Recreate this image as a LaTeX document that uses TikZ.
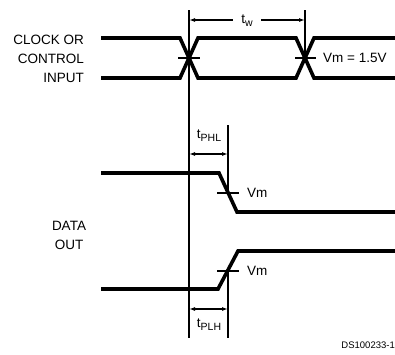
\documentclass[tikz,border=0pt]{standalone}
\usepackage{fontspec}
\setmainfont{Liberation Sans}
\usetikzlibrary{arrows.meta}
\newcommand{\tsub}[1]{t\raisebox{-0.45ex}{\fontsize{10.5}{11}\selectfont #1}}
\begin{document}
\begin{tikzpicture}[x=1pt,y=-1pt,font=\fontsize{13.5}{15}\selectfont,
  wave/.style={line width=3.6pt,line join=miter},
  thin/.style={line width=1.2pt},
  dim/.style={line width=1.2pt,{Latex[length=6pt,width=4pt]}-{Latex[length=6pt,width=4pt]}},
  lbl/.style={inner sep=1pt}]
\useasboundingbox (0,0) rectangle (395,354);

% labels
\node[anchor=east,lbl] (clkA) at (85,40) {CLOCK OR};
\node[anchor=east,lbl] (clkB) at (85,59) {CONTROL};
\node[anchor=east,lbl] (clkC) at (85,78) {INPUT};
\node[lbl] (datA) at (69,226) {DATA};
\node[lbl] (datB) at (69,245) {OUT};

% clock waveform
\draw[wave] (101,38) -- (180,38) -- (198,78) -- (296,78) -- (314,38) -- (395,38);
\draw[wave] (101,78) -- (180,78) -- (198,38) -- (296,38) -- (314,78) -- (395,78);

% data waveforms
\draw[wave] (101,173) -- (219,173) -- (237,212) -- (395,212);
\draw[wave] (101,289) -- (218,289) -- (238,251) -- (395,251);

% reference lines
\coordinate (refT) at (189,10);
\coordinate (refB) at (189,338);
\coordinate (twT) at (305,10);
\coordinate (twB) at (305,58);
\coordinate (phlT) at (228,125);
\coordinate (phlB) at (228,193);
\coordinate (plhT) at (228,271);
\coordinate (plhB) at (228,338);
\draw[thin] (refT) -- (refB);
\draw[thin] (twT) -- (twB);
\draw[thin] (phlT) -- (phlB);
\draw[thin] (plhT) -- (plhB);

% Vm marks
\draw[thin] (178,58) -- (200,58);
\draw[thin] (295,58) -- (316,58);
\draw[thin] (217,193) -- (239,193);
\draw[thin] (217,271) -- (239,271);
\node[anchor=west,lbl] (vmA) at (322,58) {Vm = 1.5V};
\node[anchor=west,lbl] (vmB) at (246,193) {Vm};
\node[anchor=west,lbl] (vmC) at (246,271) {Vm};

% timing arrows
\coordinate (twL) at (189,20);
\coordinate (twR) at (305,20);
\coordinate (phlL) at (189,154);
\coordinate (phlR) at (228,154);
\coordinate (plhL) at (189,309);
\coordinate (plhR) at (228,309);
\draw[dim] (twL) -- node[fill=white,inner xsep=8pt,inner ysep=2pt,yshift=-1pt] (tw) {\tsub{w}} (twR);
\draw[dim] (phlL) -- (phlR);
\draw[dim] (plhL) -- (plhR);
\node[lbl] (tphl) at (209,136) {\tsub{PHL}};
\node[lbl] (tplh) at (209,325) {\tsub{PLH}};

\node[anchor=east,inner sep=0pt,font=\fontsize{9.5}{10}\selectfont] (ds) at (395,345) {DS100233-1};
\end{tikzpicture}
\end{document}
